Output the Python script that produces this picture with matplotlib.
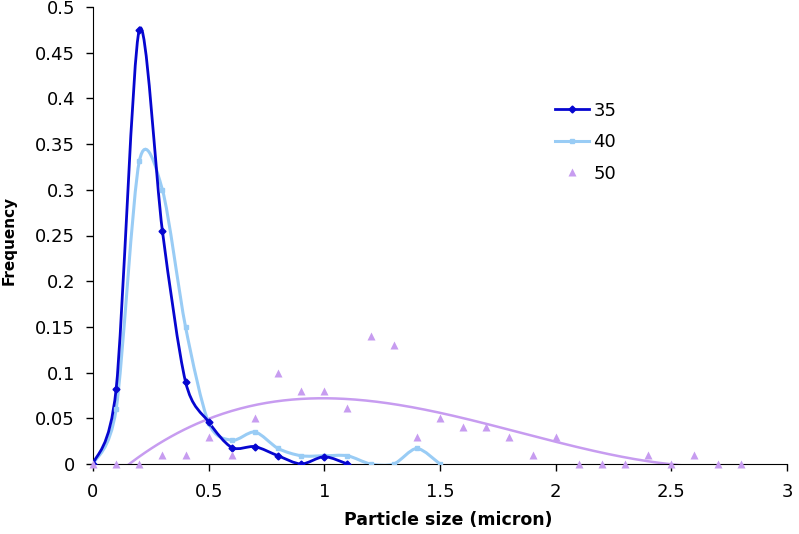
import numpy as np
import matplotlib
matplotlib.use("Agg")
import matplotlib.pyplot as plt
from matplotlib.path import Path
from matplotlib.patches import PathPatch

plt.rcParams['font.family'] = ['DejaVu Sans']

# particle size bins (micron)
x35 = [0.0, 0.1, 0.2, 0.3, 0.4, 0.5, 0.6, 0.7, 0.8, 0.9, 1.0, 1.1]
y35 = [0.0, 0.082, 0.475, 0.255, 0.09, 0.046, 0.018, 0.019, 0.009, 0.0, 0.008, 0.0]

x40 = [0.0, 0.1, 0.2, 0.3, 0.4, 0.5, 0.6, 0.7, 0.8, 0.9, 1.0, 1.1, 1.2, 1.3, 1.4, 1.5]
y40 = [0.0, 0.06, 0.331, 0.3, 0.15, 0.045, 0.026, 0.035, 0.017, 0.009, 0.009, 0.009,
       0.0, 0.0, 0.017, 0.0]

x50 = [0.0, 0.1, 0.2, 0.3, 0.4, 0.5, 0.6, 0.7, 0.8, 0.9, 1.0, 1.1, 1.2, 1.3, 1.4,
       1.5, 1.6, 1.7, 1.8, 1.9, 2.0, 2.1, 2.2, 2.3, 2.4, 2.5, 2.6, 2.7, 2.8]
y50 = [0.0, 0.0, 0.0, 0.01, 0.01, 0.03, 0.01, 0.05, 0.1, 0.08, 0.08, 0.061, 0.14, 0.13,
       0.03, 0.05, 0.04, 0.04, 0.03, 0.01, 0.03, 0.0, 0.0, 0.0, 0.01, 0.0, 0.01, 0.0, 0.0]

c35 = '#0606d0'
c40 = '#99ccf5'
c50 = '#c79cf0'


# Excel-style smoothed line: cubic bezier segments through the data points
def smooth_path(xs, ys, k=7.0):
    p = np.column_stack([xs, ys])
    n = len(p)
    verts = [p[0]]
    codes = [Path.MOVETO]
    for i in range(n - 1):
        p0 = p[i - 1] if i > 0 else p[i]
        p3 = p[i + 2] if i + 2 < n else p[i + 1]
        c1 = p[i] + (p[i + 1] - p0) / k
        c2 = p[i + 1] - (p3 - p[i]) / k
        verts += [c1, c2, p[i + 1]]
        codes += [Path.CURVE4] * 3
    return Path(verts, codes)


fig = plt.figure(figsize=(7.99, 5.34), dpi=100)
ax = fig.add_axes([93 / 799, 70 / 534, 694 / 799, 457 / 534])

ax.add_patch(PathPatch(smooth_path(x40, y40), fc='none', ec=c40, lw=2.2, zorder=3))
ax.add_patch(PathPatch(smooth_path(x35, y35), fc='none', ec=c35, lw=2.0, zorder=4))
h1, = ax.plot(x35, y35, ls='none', marker='D', ms=3.5, color=c35, zorder=5)
h2, = ax.plot(x40, y40, ls='none', marker='s', ms=3.5, color=c40, zorder=4)
h3, = ax.plot(x50, y50, ls='none', marker='^', ms=6, color=c50, mec='none', zorder=5,
              clip_on=False)

# polynomial trendline for the 50 series
coef = np.polyfit(x50, y50, 3)
xt = np.linspace(0, 2.8, 300)
ax.plot(xt, np.polyval(coef, xt), color=c50, lw=1.8, zorder=2)

# legend handles (line + marker)
l1, = ax.plot([], [], color=c35, lw=2, marker='D', ms=3.5)
l2, = ax.plot([], [], color=c40, lw=2.2, marker='s', ms=3.5)
ax.legend([l1, l2, h3], ['35', '40', '50'], loc='upper left',
          bbox_to_anchor=(0.665, 0.793), frameon=False, fontsize=13,
          handlelength=1.9, handletextpad=0.25, labelspacing=0.75,
          borderpad=0, borderaxespad=0)

ax.set_xlim(0, 3)
ax.set_ylim(0, 0.5)
ax.set_xticks([0, 0.5, 1, 1.5, 2, 2.5, 3])
ax.set_xticklabels(['0', '0.5', '1', '1.5', '2', '2.5', '3'])
ax.set_yticks(np.arange(0, 0.51, 0.05))
ax.set_yticklabels(['0', '0.05', '0.1', '0.15', '0.2', '0.25', '0.3', '0.35', '0.4',
                    '0.45', '0.5'])
ax.spines['top'].set_visible(False)
ax.spines['right'].set_visible(False)
ax.tick_params(direction='out', length=5, labelsize=13, width=1)
ax.tick_params(axis='x', pad=9)
ax.tick_params(axis='y', pad=8)
ax.set_xlabel('Particle size (micron)', fontsize=12.5, fontweight='bold', va='top')
ax.xaxis.set_label_coords(0.512, -0.103)
ax.set_ylabel('Frequency', fontsize=11, fontweight='bold')
ax.yaxis.set_label_coords(-0.11, 0.49)

fig.savefig('out.png', dpi=100)
